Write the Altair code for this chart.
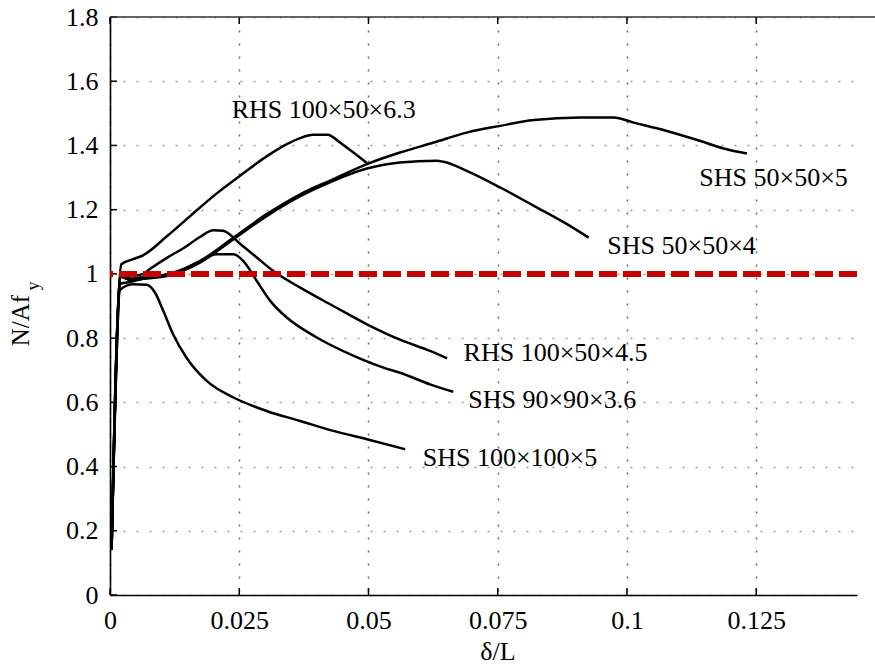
import altair as alt
import pandas as pd

FONT = "Liberation Serif"

# ---- curve data (delta/L, N/Afy) ----
rhs63_x = [0.0003, 0.0022, 0.0045, 0.0064, 0.011, 0.0155, 0.0206, 0.0247, 0.0303, 0.0342, 0.0368, 0.0393, 0.0422, 0.0432, 0.0445, 0.0471, 0.0497]
rhs63_y = [0.14, 1.03, 1.046, 1.058, 1.117, 1.18, 1.25, 1.30, 1.366, 1.404, 1.423, 1.433, 1.433, 1.425, 1.409, 1.378, 1.345]

shs505_x = [0.0003, 0.0021, 0.004, 0.0064, 0.011, 0.0142, 0.0174, 0.0239, 0.0303, 0.0368, 0.0432, 0.0497, 0.0561, 0.0626, 0.069, 0.0755, 0.082, 0.091, 0.0974, 0.1013, 0.1077, 0.1142, 0.1193, 0.1232]
shs505_y = [0.14, 1.0, 0.985, 0.99, 0.997, 1.015, 1.04, 1.113, 1.186, 1.248, 1.295, 1.342, 1.378, 1.409, 1.44, 1.461, 1.479, 1.487, 1.487, 1.471, 1.445, 1.414, 1.388, 1.375]

shs504_x = [0.0003, 0.0021, 0.004, 0.0064, 0.011, 0.0142, 0.0174, 0.0239, 0.0303, 0.0368, 0.0432, 0.0497, 0.0561, 0.0632, 0.0645, 0.069, 0.0755, 0.082, 0.0884, 0.0926]
shs504_y = [0.14, 0.99, 0.98, 0.985, 0.993, 1.01, 1.035, 1.108, 1.18, 1.242, 1.29, 1.328, 1.347, 1.352, 1.349, 1.321, 1.269, 1.212, 1.155, 1.113]

rhs45_x = [0.0003, 0.0021, 0.004, 0.0064, 0.0077, 0.011, 0.0142, 0.0174, 0.02, 0.0219, 0.0252, 0.0284, 0.0316, 0.0368, 0.0432, 0.0497, 0.0561, 0.0619, 0.0652]
rhs45_y = [0.14, 1.0, 0.993, 1.0, 1.015, 1.05, 1.08, 1.115, 1.136, 1.134, 1.093, 1.051, 1.009, 0.957, 0.9, 0.843, 0.795, 0.76, 0.737]

shs90_x = [0.0003, 0.0021, 0.004, 0.0064, 0.011, 0.0142, 0.0174, 0.0206, 0.0239, 0.0258, 0.0284, 0.031, 0.0342, 0.04, 0.0464, 0.0529, 0.0561, 0.0619, 0.0664]
shs90_y = [0.14, 0.97, 0.975, 0.985, 0.999, 1.015, 1.04, 1.061, 1.061, 1.04, 0.978, 0.916, 0.864, 0.802, 0.75, 0.708, 0.692, 0.656, 0.633]

shs100_x = [0.0003, 0.0019, 0.0045, 0.0071, 0.0087, 0.0103, 0.0122, 0.0148, 0.0187, 0.0239, 0.0303, 0.0368, 0.0432, 0.0497, 0.0571]
shs100_y = [0.14, 0.95, 0.968, 0.966, 0.942, 0.885, 0.812, 0.739, 0.667, 0.615, 0.573, 0.542, 0.511, 0.485, 0.454]

curve_names = ["RHS 100×50×6.3", "SHS 50×50×5", "SHS 50×50×4",
               "RHS 100×50×4.5", "SHS 90×90×3.6", "SHS 100×100×5"]
curve_xs = [rhs63_x, shs505_x, shs504_x, rhs45_x, shs90_x, shs100_x]
curve_ys = [rhs63_y, shs505_y, shs504_y, rhs45_y, shs90_y, shs100_y]

# label anchor points (data units, left / baseline)
label_x = [0.02355, 0.1140, 0.0962, 0.0684, 0.0693, 0.0605]
label_y = [1.484, 1.273, 1.061, 0.728, 0.581, 0.402]

x_ticks = [0, 0.025, 0.05, 0.075, 0.1, 0.125]
y_ticks = [0, 0.2, 0.4, 0.6, 0.8, 1.0, 1.2, 1.4, 1.6, 1.8]
ref_level = [1.0]

rows = []
for name, xs_, ys_ in zip(curve_names, curve_xs, curve_ys):
    for i, (a, b) in enumerate(zip(xs_, ys_)):
        rows.append({"curve": name, "order": i, "d": a, "n": b})
df = pd.DataFrame(rows)
labels_df = pd.DataFrame({"label": curve_names, "d": label_x, "n": label_y})

W, H = 747, 578
xscale = alt.Scale(domain=[0, 0.1445], nice=False, zero=False)
yscale = alt.Scale(domain=[0, 1.8], nice=False)

x_axis = alt.Axis(values=x_ticks, format=".3~f", grid=True, gridDash=[2, 11],
                  gridColor="#666", gridWidth=1.5, ticks=False,
                  domainColor="black", domainWidth=1.6,
                  labelFont=FONT, labelFontSize=26, labelColor="black",
                  labelPadding=12, labelFlush=False,
                  title="δ/L", titleFont=FONT, titleFontSize=26,
                  titleFontWeight="normal", titleColor="black",
                  titleX=387.5, titleY=64, titleBaseline="alphabetic",
                  titleAlign="center")
y_axis = alt.Axis(values=y_ticks, format="~g", grid=True, gridDash=[2, 11],
                  gridColor="#999", gridWidth=1.5, ticks=False,
                  domainColor="black", domainWidth=1.6,
                  labelFont=FONT, labelFontSize=26, labelColor="black",
                  labelPadding=12, labelFlush=False,
                  title="N/Af", titleFont=FONT, titleFontSize=25,
                  titleFontWeight="normal", titleColor="black",
                  titleAngle=270, titleX=-82, titleY=303,
                  titleBaseline="alphabetic", titleAlign="center")

X = lambda: alt.X("d:Q", scale=xscale, axis=x_axis)
Y = lambda: alt.Y("n:Q", scale=yscale, axis=y_axis)

lines = alt.Chart(df).mark_line(color="black", strokeWidth=2.5,
                                interpolate="monotone").encode(
    x=X(), y=Y(), detail="curve:N", order="order:Q",
)

ref = alt.Chart(pd.DataFrame({"n": ref_level})).mark_rule(
    color="#c80000", strokeWidth=6, strokeDash=[18, 6]
).encode(y=Y())

texts = alt.Chart(labels_df).mark_text(
    align="left", baseline="alphabetic", font=FONT, fontSize=26, color="black"
).encode(x=X(), y=Y(), text="label:N")

xt = pd.DataFrame({"d": x_ticks})
yt = pd.DataFrame({"n": y_ticks})
bottom_ticks = alt.Chart(xt).mark_rule(color="black", strokeWidth=1.5).encode(
    x=X(), y=alt.value(H), y2=alt.value(H - 7))
top_ticks = alt.Chart(xt).mark_rule(color="black", strokeWidth=1.5).encode(
    x=X(), y=alt.value(0), y2=alt.value(7))
left_ticks = alt.Chart(yt).mark_rule(color="black", strokeWidth=1.5).encode(
    y=Y(), x=alt.value(0), x2=alt.value(7))

top_border = alt.Chart(pd.DataFrame({"k": [0]})).mark_rule(
    color="#333", strokeWidth=1.6
).encode(x=alt.value(0), x2=alt.value(765), y=alt.value(0))

sub_y = alt.Chart(pd.DataFrame({"t": ["y"]})).mark_text(
    angle=270, align="center", baseline="alphabetic", font=FONT,
    fontSize=18, color="black"
).encode(x=alt.value(-71), y=alt.value(269), text="t:N")

chart = alt.layer(
    lines, texts, bottom_ticks, top_ticks, left_ticks, top_border, ref, sub_y
).properties(
    width=W, height=H,
    autosize=alt.AutoSizeParams(type="none"),
    padding={"left": 110, "top": 17, "right": 18, "bottom": 72},
    background="white",
).configure_view(stroke=None)

chart.save("out.html", embed_options={"renderer": "svg", "actions": False})
